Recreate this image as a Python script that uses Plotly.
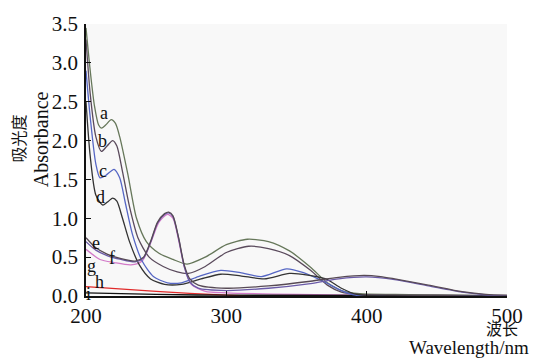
import plotly.graph_objects as go

# ---- data ----
wl_a = [200, 203, 206, 209, 211, 214, 218, 221, 224, 230, 236, 243, 252, 262, 272, 285, 300, 315, 330, 345, 360, 372, 382, 395, 420, 460, 500]
ab_a = [3.45, 2.9, 2.45, 2.2, 2.16, 2.2, 2.27, 2.22, 2.05, 1.55, 1.0, 0.7, 0.55, 0.47, 0.41, 0.5, 0.66, 0.73, 0.70, 0.58, 0.37, 0.17, 0.07, 0.03, 0.02, 0.01, 0.0]

wl_b = [200, 203, 207, 211, 215, 219, 222, 226, 231, 237, 245, 255, 265, 273, 285, 300, 316, 330, 345, 360, 372, 382, 395, 450, 500]
ab_b = [3.3, 2.6, 2.05, 1.86, 1.93, 2.0, 1.93, 1.6, 1.15, 0.75, 0.5, 0.38, 0.31, 0.29, 0.38, 0.56, 0.64, 0.61, 0.52, 0.33, 0.14, 0.05, 0.02, 0.01, 0.0]

wl_c = [200, 203, 207, 210, 214, 220, 224, 228, 233, 240, 248, 258, 268, 280, 296, 310, 325, 343, 355, 370, 382, 392, 500]
ab_c = [2.9, 2.3, 1.7, 1.52, 1.55, 1.63, 1.52, 1.2, 0.8, 0.45, 0.25, 0.17, 0.17, 0.25, 0.33, 0.30, 0.25, 0.35, 0.30, 0.18, 0.07, 0.01, 0.0]

wl_d = [200, 203, 207, 212, 216, 219, 222, 226, 231, 238, 246, 256, 268, 282, 296, 310, 327, 345, 358, 371, 382, 393, 500]
ab_d = [2.5, 1.8, 1.3, 1.17, 1.22, 1.26, 1.22, 1.0, 0.7, 0.4, 0.22, 0.15, 0.15, 0.22, 0.28, 0.26, 0.22, 0.29, 0.27, 0.22, 0.10, 0.02, 0.0]

wl_e = [200, 207, 215, 225, 235, 241, 246, 251, 256, 259, 262, 266, 270, 274, 280, 300, 330, 360, 380, 398, 410, 420, 444, 468, 485, 500]
ab_e = [0.75, 0.62, 0.54, 0.48, 0.45, 0.5, 0.7, 0.95, 1.06, 1.08, 1.03, 0.75, 0.4, 0.22, 0.14, 0.10, 0.13, 0.19, 0.24, 0.265, 0.25, 0.22, 0.14, 0.055, 0.02, 0.01]

wl_f = [200, 207, 215, 225, 235, 241, 246, 251, 256, 259, 262, 266, 270, 274, 280, 300, 330, 360, 380, 400, 420, 444, 468, 485, 500]
ab_f = [0.70, 0.59, 0.52, 0.47, 0.44, 0.49, 0.69, 0.94, 1.05, 1.07, 1.02, 0.74, 0.38, 0.18, 0.10, 0.07, 0.10, 0.16, 0.22, 0.245, 0.21, 0.13, 0.05, 0.015, 0.005]

wl_g = [200, 210, 220, 232, 240, 246, 252, 258, 262, 266, 270, 275, 285, 300, 350, 400, 500]
ab_g = [0.60, 0.47, 0.43, 0.40, 0.45, 0.68, 0.95, 1.05, 1.0, 0.72, 0.38, 0.15, 0.06, 0.04, 0.02, 0.01, 0.0]

wl_h = [200, 250, 300, 320, 500]
ab_h = [0.12, 0.06, 0.01, 0.0, 0.0]

wl_i = [200, 250, 300, 500]
ab_i = [0.04, 0.02, 0.01, 0.005]

labels = ["a", "b", "c", "d", "e", "f", "g", "h", "i"]
label_x = [213.0, 211.8, 211.8, 210.6, 207.1, 218.4, 204.2, 209.9, 201.9]
label_y = [2.36, 1.99, 1.61, 1.28, 0.68, 0.49, 0.38, 0.18, 0.03]

x_ticks = [200, 300, 400, 500]
y_ticks = [0.0, 0.5, 1.0, 1.5, 2.0, 2.5, 3.0, 3.5]

# ---- figure ----
series = [
    (wl_g, ab_g, "#d27ac8"),
    (wl_h, ab_h, "#e02a2a"),
    (wl_i, ab_i, "#111111"),
    (wl_a, ab_a, "#66775a"),
    (wl_b, ab_b, "#5a4a5c"),
    (wl_c, ab_c, "#5566c4"),
    (wl_d, ab_d, "#333333"),
    (wl_f, ab_f, "#6a5aa8"),
    (wl_e, ab_e, "#574a55"),
]

fig = go.Figure()
for xs, ys, col in series:
    fig.add_trace(go.Scatter(x=xs, y=ys, mode="lines",
                             line=dict(color=col, width=1.3, shape="spline", smoothing=0.7),
                             showlegend=False, hoverinfo="skip"))

serif = "Liberation Serif"
for t, lx, ly in zip(labels, label_x, label_y):
    fig.add_annotation(x=lx, y=ly, text=t, showarrow=False,
                       font=dict(family=serif, size=18, color="#111111"))

fig.add_annotation(xref="paper", yref="paper", x=1.031, y=-0.119, xanchor="right", yanchor="middle",
                   text="波长", showarrow=False,
                   font=dict(family="Noto Sans CJK SC", size=16, color="#111111"))
fig.add_annotation(xref="paper", yref="paper", x=1.057, y=-0.19, xanchor="right", yanchor="middle",
                   text="Wavelength/nm", showarrow=False,
                   font=dict(family=serif, size=19, color="#111111"))
fig.add_annotation(xref="paper", yref="paper", x=-0.161, y=0.58, xanchor="center", yanchor="middle",
                   text="吸光度", textangle=-90, showarrow=False,
                   font=dict(family="Noto Sans CJK SC", size=16, color="#111111"))
fig.add_annotation(xref="paper", yref="paper", x=-0.108, y=0.575, xanchor="center", yanchor="middle",
                   text="Absorbance", textangle=-90, showarrow=False,
                   font=dict(family=serif, size=20, color="#111111"))

fig.update_layout(
    width=535, height=359,
    margin=dict(l=86, r=25, t=18, b=63),
    paper_bgcolor="white",
    plot_bgcolor="#f8f8f8",
    font=dict(family=serif, size=20, color="#111111"),
)
fig.update_xaxes(range=[200, 500], tickvals=x_ticks, ticktext=[str(v) for v in x_ticks],
                 showgrid=False, zeroline=False, showline=True, linecolor="#111111", linewidth=1.5,
                 ticks="inside", ticklen=5, tickcolor="#111111", tickwidth=1.2,
                 tickfont=dict(family=serif, size=21))
fig.update_yaxes(range=[0, 3.5], tickvals=y_ticks, ticktext=[f"{v:.1f}" for v in y_ticks],
                 showgrid=False, zeroline=False, showline=True, linecolor="#111111", linewidth=1.5,
                 ticks="inside", ticklen=5, tickcolor="#111111", tickwidth=1.2,
                 ticklabelstandoff=2, tickfont=dict(family=serif, size=21))

fig.write_html("out.html", config={"displayModeBar": False},
               post_script="document.body.style.margin='0px';document.body.style.overflow='hidden';")
